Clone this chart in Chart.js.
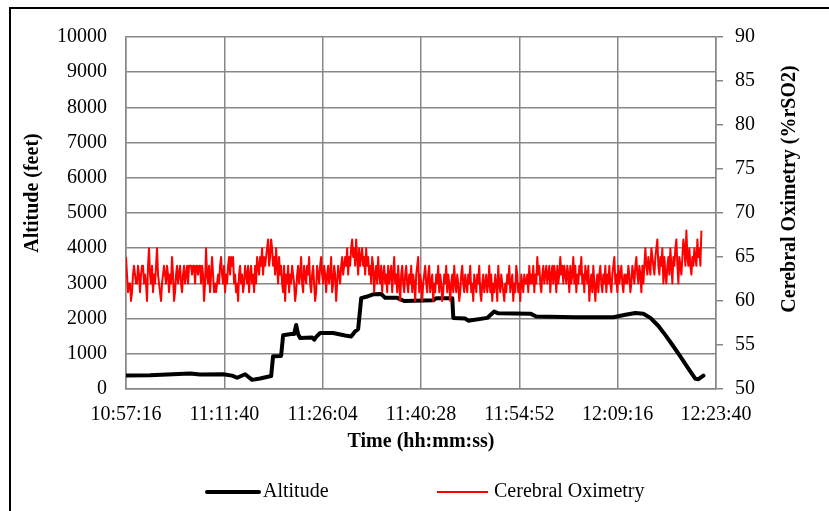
<!DOCTYPE html>
<html>
<head>
<meta charset="utf-8">
<script src="https://cdn.jsdelivr.net/npm/chart.js@4.4.1/dist/chart.umd.min.js"></script>
<style>
  html, body { margin: 0; padding: 0; background: #fff; }
</style>
</head>
<body>
<canvas id="myChart" width="829" height="511"></canvas>
<script>
// tick labels on the time axis, one every 00:14:24
const timeLabels = ['10:57:16', '11:11:40', '11:26:04', '11:40:28', '11:54:52', '12:09:16', '12:23:40'];
const tickStep = 864;
const timeMax = 5215;

// altitude trace: seconds after 10:57:16, feet
const altitudeTime = [0, 212, 566, 655, 858, 938, 982, 1053, 1115, 1185, 1283, 1300, 1371, 1389, 1460, 1486, 1504, 1521, 1539,
    1645, 1663, 1681, 1716, 1831, 1937, 1990, 2026, 2052, 2079, 2123, 2185, 2256, 2291, 2397, 2459, 2716, 2742, 2884,
    2893, 2999, 3025, 3193, 3255, 3291, 3574, 3627, 3972, 4308, 4414, 4503, 4573, 4635, 4706, 4768, 4830, 4901, 4971,
    5033, 5060, 5104];
const altitudeFeet = [380, 390, 440, 410, 420, 380, 320, 420, 260, 300, 370, 930, 940, 1530, 1560, 1560, 1820, 1560, 1450,
    1460, 1400, 1480, 1590, 1590, 1520, 1490, 1640, 1700, 2580, 2620, 2690, 2700, 2590, 2590, 2500, 2520, 2580, 2580,
    2020, 2000, 1940, 2020, 2200, 2150, 2140, 2060, 2040, 2040, 2110, 2160, 2140, 2020, 1790, 1530, 1250, 920, 580,
    290, 280, 380];

// cerebral oximetry (%rSO2), one sample every oximetryStep seconds from 10:57:16
const oximetryStep = 8.845;
const oximetry = [
    65, 63, 61, 62, 62, 60, 61, 63, 64, 63, 62, 62, 64, 63, 61, 63, 64, 64, 62, 63,
    62, 60, 64, 66, 63, 62, 64, 61, 63, 62, 64, 66, 63, 62, 61, 60, 62, 63, 64, 63,
    62, 64, 63, 61, 63, 62, 65, 63, 60, 61, 63, 64, 62, 63, 64, 62, 61, 63, 64, 62,
    63, 64, 62, 64, 64, 64, 63, 64, 64, 62, 64, 64, 63, 64, 64, 62, 64, 63, 60, 62,
    66, 63, 62, 64, 61, 63, 65, 63, 61, 62, 61, 62, 63, 62, 64, 65, 63, 62, 64, 61,
    63, 62, 64, 65, 63, 65, 64, 65, 62, 63, 61, 62, 60, 63, 64, 62, 63, 61, 62, 64,
    63, 62, 64, 61, 63, 64, 62, 63, 61, 64, 62, 65, 64, 63, 65, 64, 66, 63, 65, 64,
    65, 66, 67, 64, 65, 67, 66, 64, 65, 63, 66, 64, 62, 65, 63, 64, 62, 61, 64, 60,
    63, 62, 64, 61, 63, 62, 64, 63, 62, 60, 61, 63, 64, 62, 63, 65, 62, 61, 64, 63,
    62, 64, 63, 65, 62, 61, 63, 64, 62, 60, 61, 64, 63, 62, 64, 65, 63, 62, 64, 63,
    61, 63, 64, 62, 63, 65, 61, 62, 64, 63, 60, 62, 64, 63, 62, 64, 65, 63, 64, 65,
    64, 66, 63, 65, 64, 66, 67, 65, 66, 64, 67, 65, 63, 66, 64, 65, 66, 64, 65, 63,
    66, 64, 65, 63, 64, 62, 65, 64, 61, 63, 64, 62, 65, 63, 62, 64, 61, 63, 64, 62,
    63, 61, 64, 62, 63, 64, 61, 63, 65, 62, 63, 61, 64, 62, 60, 63, 64, 62, 61, 63,
    64, 62, 61, 63, 62, 64, 61, 63, 62, 60, 63, 64, 65, 61, 63, 62, 60, 62, 63, 64,
    62, 61, 63, 64, 61, 62, 63, 60, 62, 61, 63, 62, 64, 61, 63, 62, 60, 61, 63, 62,
    64, 61, 63, 62, 60, 62, 63, 61, 64, 62, 61, 63, 62, 60, 61, 63, 64, 62, 61, 63,
    62, 61, 63, 62, 64, 61, 62, 60, 63, 62, 61, 63, 62, 64, 61, 60, 62, 63, 61, 62,
    63, 61, 62, 64, 61, 63, 60, 62, 61, 63, 62, 60, 64, 62, 61, 63, 62, 61, 60, 62,
    61, 63, 62, 64, 61, 62, 63, 60, 62, 61, 64, 63, 61, 62, 60, 63, 62, 61, 63, 62,
    62, 63, 61, 64, 62, 63, 62, 64, 61, 63, 62, 65, 63, 64, 62, 61, 63, 64, 62, 63,
    64, 62, 63, 64, 61, 63, 64, 62, 64, 63, 61, 64, 62, 63, 65, 63, 64, 62, 64, 63,
    62, 64, 63, 61, 64, 62, 63, 65, 62, 64, 61, 63, 62, 64, 63, 65, 62, 63, 61, 64,
    63, 62, 64, 60, 62, 63, 61, 64, 62, 60, 62, 63, 61, 63, 64, 62, 61, 63, 62, 64,
    61, 63, 62, 64, 62, 61, 63, 64, 65, 62, 63, 61, 64, 62, 63, 64, 62, 61, 63, 62,
    63, 62, 64, 63, 61, 62, 64, 63, 62, 64, 65, 63, 62, 64, 63, 61, 64, 62, 64, 66,
    64, 63, 65, 64, 63, 66, 65, 64, 63, 65, 66, 67, 64, 63, 65, 64, 66, 62, 65, 63,
    62, 64, 65, 63, 66, 64, 62, 65, 64, 66, 67, 64, 62, 65, 64, 63, 65, 67, 66, 64,
    68, 65, 64, 66, 64, 63, 65, 64, 66, 65, 64, 67, 65, 66, 64, 68
];

const FONT = 'Liberation Serif, Times New Roman, serif';
const GRID = '#878787';

const altitudePoints = altitudeTime.map((t, i) => ({ x: t, y: altitudeFeet[i] }));
const oximetryPoints = oximetry.map((v, i) => ({ x: i * oximetryStep, y: v }));

// border, y titles and legend drawn straight on the canvas
const decor = {
    id: 'decor',
    afterDraw(chart) {
        const c = chart.ctx;
        c.save();
        c.strokeStyle = '#000';
        c.lineWidth = 2;
        c.beginPath();
        c.moveTo(10, 511);
        c.lineTo(10, 8);
        c.lineTo(829, 8);
        c.stroke();

        c.fillStyle = '#000';
        c.textAlign = 'center';
        c.textBaseline = 'middle';
        c.font = 'bold 20px ' + FONT;
        c.save();
        c.translate(33, 193);
        c.rotate(-Math.PI / 2);
        c.fillText('Altitude (feet)', 0, 0);
        c.restore();
        c.save();
        c.translate(790, 189);
        c.rotate(-Math.PI / 2);
        c.fillText('Cerebral Oximetry (%rSO2)', 0, 0);
        c.restore();

        c.font = '20px ' + FONT;
        c.textAlign = 'left';
        c.lineCap = 'round';
        c.strokeStyle = '#000';
        c.lineWidth = 4;
        c.beginPath(); c.moveTo(207, 492); c.lineTo(259, 492); c.stroke();
        c.fillText('Altitude', 263, 492);
        c.strokeStyle = '#ff0000';
        c.lineWidth = 2;
        c.lineCap = 'butt';
        c.beginPath(); c.moveTo(437, 492); c.lineTo(488, 492); c.stroke();
        c.fillText('Cerebral Oximetry', 494, 492);
        c.restore();
    }
};

const ctx = document.getElementById('myChart').getContext('2d');

const myChart = new Chart(ctx, {
    type: 'line',
    data: {
        datasets: [{
            label: 'Altitude',
            data: altitudePoints,
            borderColor: '#000',
            borderWidth: 4,
            borderJoinStyle: 'round',
            borderCapStyle: 'round',
            pointRadius: 0,
            tension: 0,
            yAxisID: 'y',
            order: 1
        }, {
            label: 'Cerebral Oximetry',
            data: oximetryPoints,
            borderColor: '#ff0000',
            borderWidth: 2,
            borderJoinStyle: 'round',
            pointRadius: 0,
            tension: 0,
            yAxisID: 'y1',
            order: 0
        }]
    },
    options: {
        responsive: false,
        animation: false,
        layout: { padding: { top: 37, left: 0, right: 0, bottom: 0 } },
        plugins: {
            legend: { display: false },
            tooltip: { enabled: false }
        },
        scales: {
            x: {
                type: 'linear',
                min: 0,
                max: timeMax,
                afterFit: (s) => { s.height = 122; },
                ticks: {
                    stepSize: tickStep,
                    includeBounds: false,
                    autoSkip: false,
                    maxRotation: 0,
                    padding: 14,
                    color: '#000',
                    font: { family: FONT, size: 20, lineHeight: 1.2 },
                    callback: (v) => timeLabels[Math.round(v / tickStep)] || ''
                },
                grid: { color: GRID, lineWidth: 1.5, drawTicks: false },
                border: { color: GRID, width: 1.5 },
                title: {
                    display: true,
                    text: 'Time (hh:mm:ss)',
                    color: '#000',
                    font: { family: FONT, size: 20, weight: 'bold', lineHeight: 1.2 },
                    padding: { top: 0, bottom: 57 }
                }
            },
            y: {
                position: 'left',
                min: 0,
                max: 10000,
                afterFit: (s) => { s.width = 126; },
                ticks: {
                    stepSize: 1000,
                    padding: 19,
                    color: '#000',
                    font: { family: FONT, size: 20 },
                    callback: (v) => String(v)
                },
                grid: { color: GRID, lineWidth: 1.5, drawTicks: false },
                border: { color: GRID, width: 1.5 }
            },
            y1: {
                position: 'right',
                min: 50,
                max: 90,
                afterFit: (s) => { s.width = 113; },
                ticks: {
                    stepSize: 5,
                    padding: 12,
                    color: '#000',
                    font: { family: FONT, size: 20 },
                    callback: (v) => String(v)
                },
                grid: { color: GRID, lineWidth: 1.5, drawOnChartArea: false, tickLength: 7 },
                border: { color: GRID, width: 1.5 }
            }
        }
    },
    plugins: [decor]
});
</script>
</body>
</html>
